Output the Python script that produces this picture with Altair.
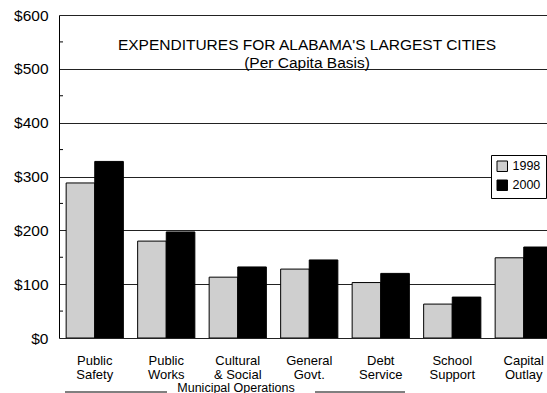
import altair as alt
import pandas as pd

categories = ["Public Safety", "Public Works", "Cultural & Social", "General Govt.",
              "Debt Service", "School Support", "Capital Outlay"]
years = ["1998", "2000"]
values_1998 = [288, 180, 113, 128, 103, 63, 149]
values_2000 = [328, 197, 132, 145, 120, 76, 169]
y_ticks = [0, 100, 200, 300, 400, 500, 600]
minor_ticks = [50, 150, 250, 350, 450, 550]
title_lines = ["EXPENDITURES FOR ALABAMA'S LARGEST CITIES", "(Per Capita Basis)"]
group_label = "Municipal Operations"

rows = []
for c, v in zip(categories, values_1998):
    rows.append({"category": c, "year": "1998", "value": v})
for c, v in zip(categories, values_2000):
    rows.append({"category": c, "year": "2000", "value": v})
df = pd.DataFrame(rows)

FONT = "Liberation Sans"
W, H = 488, 323

yscale = alt.Scale(domain=[0, 600], nice=False)

bars = alt.Chart(df).mark_bar(stroke="black", strokeWidth=1, clip=True).encode(
    x=alt.X("category:N", sort=categories,
            scale=alt.Scale(range=[0, 500.5], paddingInner=0.2, paddingOuter=0.1),
            axis=alt.Axis(title=None, domain=False, ticks=False, labelAngle=0,
                          labelFontSize=13, labelFont=FONT, labelColor="black",
                          labelPadding=22, labelLineHeight=14, labelBaseline="middle",
                          labelExpr="datum.label == 'Cultural & Social' ? ['Cultural', '& Social'] : split(datum.label, ' ')")),
    xOffset=alt.XOffset("year:N", sort=years, scale=alt.Scale(paddingInner=0, paddingOuter=0)),
    y=alt.Y("value:Q", scale=yscale,
            axis=alt.Axis(title=None, values=y_ticks, labelExpr="'$' + datum.value",
                          grid=True, gridColor="#222222", gridWidth=1, gridOpacity=1,
                          domain=True, domainColor="black", domainWidth=1,
                          ticks=False, labelPadding=11, labelFontSize=15.5,
                          labelFont=FONT, labelColor="black")),
    color=alt.Color("year:N", sort=years,
                    scale=alt.Scale(domain=years, range=["#cfcfcf", "#000000"]),
                    legend=alt.Legend(title=None, orient="none", legendX=432, legendY=140,
                                      strokeColor="black", fillColor="white", padding=5,
                                      symbolType="square", symbolSize=110,
                                      symbolStrokeColor="black", symbolStrokeWidth=1,
                                      labelFontSize=12.5, labelFont=FONT, labelColor="black",
                                      rowPadding=4, cornerRadius=0)),
)

ticks_df = pd.DataFrame({"v": minor_ticks})
minor = alt.Chart(ticks_df).mark_rule(color="black", strokeWidth=1).encode(
    x=alt.value(0), x2=alt.value(4), y=alt.Y("v:Q", scale=yscale)
)

title_df = pd.DataFrame({"t": [title_lines]})
title = alt.Chart(title_df).mark_text(
    font=FONT, fontSize=15.5, color="black", align="center", baseline="middle", lineHeight=18
).encode(text="t", x=alt.value(248), y=alt.value(30))

group_df = pd.DataFrame({"t": [group_label]})
group_text = alt.Chart(group_df).mark_text(
    font=FONT, fontSize=12.5, color="black", align="center", baseline="middle"
).encode(text="t", x=alt.value(177), y=alt.value(373))

line_left = alt.Chart(group_df).mark_rule(color="black", strokeWidth=1).encode(
    x=alt.value(6), x2=alt.value(108), y=alt.value(377))
line_right = alt.Chart(group_df).mark_rule(color="black", strokeWidth=1).encode(
    x=alt.value(256), x2=alt.value(346), y=alt.value(377))

chart = alt.layer(bars, minor, title, group_text, line_left, line_right).properties(
    width=W, height=H,
    autosize=alt.AutoSizeParams(type="none"),
    padding={"left": 59, "top": 15, "right": 0, "bottom": 55},
    background="white",
).configure_view(stroke=None)

chart.save("out.html", embed_options={"renderer": "svg", "actions": False})
